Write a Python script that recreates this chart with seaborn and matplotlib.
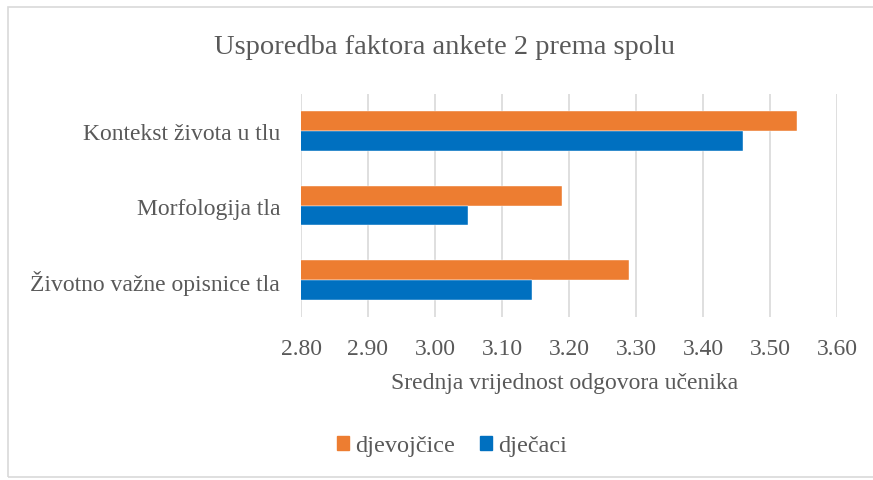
import pandas as pd
import matplotlib
matplotlib.use("Agg")
import matplotlib.pyplot as plt
from matplotlib.patches import Rectangle
import seaborn as sns

# --- podaci ---
kategorije = ["Kontekst života u tlu", "Morfologija tla", "Životno važne opisnice tla"]
djevojcice = [3.54, 3.19, 3.29]
djecaci = [3.46, 3.05, 3.145]
spol = ["djevojčice", "dječaci"]
boje = ["#ED7D31", "#0070C0"]
x_ticks = [2.80, 2.90, 3.00, 3.10, 3.20, 3.30, 3.40, 3.50, 3.60]

df = pd.DataFrame({
    "kategorija": kategorije * 2,
    "vrijednost": djevojcice + djecaci,
    "spol": [spol[0]] * 3 + [spol[1]] * 3,
})

sns.set_style("white")
plt.rcParams["font.family"] = ["Liberation Serif", "DejaVu Serif"]
TXT = "#595959"

fig = plt.figure(figsize=(8.73, 4.81), dpi=100)
fig.patches.append(Rectangle((8 / 873, 3 / 481), 1.0, 1 - 11 / 481,
                             transform=fig.transFigure, fill=False,
                             edgecolor="#D9D9D9", linewidth=1.2))
ax = fig.add_axes([301 / 873, 1 - 318 / 481, 536 / 873, 223 / 481])

sns.barplot(data=df, y="kategorija", x="vrijednost", hue="spol",
            order=kategorije, hue_order=spol, palette=boje, saturation=1,
            orient="h", width=0.53, gap=0, ax=ax,
            edgecolor="white", linewidth=0.3, legend=False)

ax.set_xlim(x_ticks[0], x_ticks[-1])
ax.set_xticks(x_ticks)
ax.set_xticklabels([f"{t:.2f}" for t in x_ticks])
ax.grid(axis="x", color="#D9D9D9", linewidth=1.2)
ax.set_axisbelow(True)
for s in ax.spines.values():
    s.set_visible(False)

ax.tick_params(axis="y", length=0, pad=15, labelsize=17, labelcolor=TXT)
ax.tick_params(axis="x", length=0, pad=15, labelsize=17, labelcolor=TXT)
ax.set_ylabel("")
ax.set_xlabel("Srednja vrijednost odgovora učenika", fontsize=17, color=TXT)
ax.xaxis.set_label_coords((565 - 301) / 536, -(383 - 318) / 223)
ax.xaxis.label.set_va("center")

fig.text(445 / 873, 1 - 48 / 481, "Usporedba faktora ankete 2 prema spolu",
         ha="center", va="center", fontsize=20.5, color=TXT)

handles = [Rectangle((0, 0), 1, 1, color=c) for c in boje]
fig.legend(handles, spol, loc="center", bbox_to_anchor=(452 / 873, 1 - 447 / 481),
           ncol=2, frameon=False, fontsize=17.5, labelcolor=TXT,
           handlelength=0.5, handleheight=0.5, handletextpad=0.25, columnspacing=1.0)

fig.savefig("out.png", dpi=100)
